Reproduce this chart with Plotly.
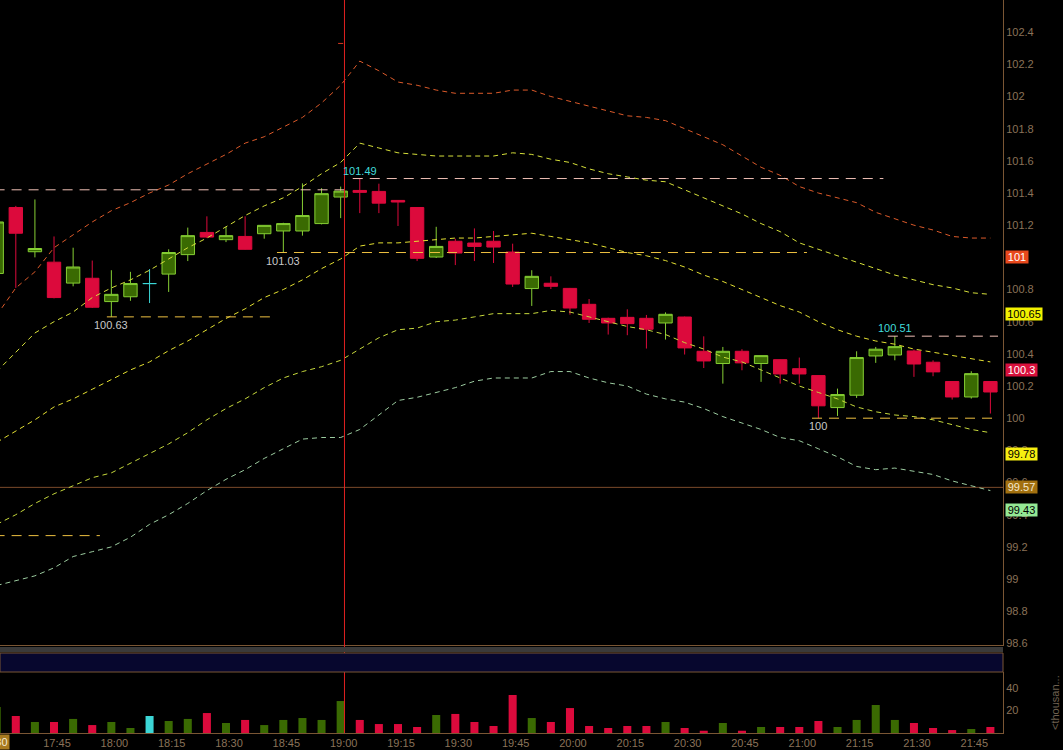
import plotly.graph_objects as go

DAY = "2024-03-05 "

# ---------------- data ----------------
times = ["17:30", "17:35", "17:40", "17:45", "17:50", "17:55", "18:00", "18:05", "18:10", "18:15",
         "18:20", "18:25", "18:30", "18:35", "18:40", "18:45", "18:50", "18:55", "19:00", "19:05",
         "19:10", "19:15", "19:20", "19:25", "19:30", "19:35", "19:40", "19:45", "19:50", "19:55",
         "20:00", "20:05", "20:10", "20:15", "20:20", "20:25", "20:30", "20:35", "20:40", "20:45",
         "20:50", "20:55", "21:00", "21:05", "21:10", "21:15", "21:20", "21:25", "21:30", "21:35",
         "21:40", "21:45", "21:50"]

opens = [100.90, 101.31, 101.035, 100.97, 100.84, 100.87, 100.725, 100.755, 100.837, 100.896,
         101.017, 101.155, 101.11, 101.13, 101.147, 101.164, 101.164, 101.21, 101.375, 101.416,
         101.41, 101.354, 101.31, 101.002, 101.10, 101.089, 101.10, 101.033, 100.806, 100.839,
         100.807, 100.708, 100.621, 100.627, 100.621, 100.592, 100.629, 100.416, 100.34, 100.416,
         100.34, 100.364, 100.308, 100.265, 100.066, 100.143, 100.387, 100.393, 100.418, 100.348,
         100.228, 100.132, 100.228]
highs = [101.42, 101.32, 101.36, 101.13, 101.06, 100.98, 100.92, 100.91, 100.927, 101.05,
         101.185, 101.255, 101.19, 101.255, 101.20, 101.215, 101.46, 101.43, 101.44, 101.49,
         101.458, 101.356, 101.31, 101.19, 101.116, 101.18, 101.164, 101.085, 100.92, 100.882,
         100.81, 100.741, 100.625, 100.677, 100.642, 100.658, 100.632, 100.509, 100.443, 100.429,
         100.39, 100.366, 100.377, 100.265, 100.184, 100.416, 100.443, 100.51, 100.427, 100.36,
         100.23, 100.292, 100.23]
lows = [100.87, 100.81, 101.00, 100.745, 100.82, 100.685, 100.63, 100.73, 100.716, 100.785,
        100.977, 101.12, 101.095, 101.048, 101.116, 101.03, 101.135, 101.205, 101.244, 101.275,
        101.275, 101.195, 100.977, 100.996, 100.952, 100.977, 100.965, 100.816, 100.698, 100.803,
        100.644, 100.592, 100.52, 100.516, 100.433, 100.489, 100.396, 100.312, 100.215, 100.298,
        100.226, 100.215, 100.215, 100.00, 100.014, 100.126, 100.344, 100.36, 100.257, 100.261,
        100.116, 100.122, 100.029]
closes = [101.22, 101.15, 101.055, 100.75, 100.94, 100.69, 100.77, 100.837, 100.837, 101.03,
          101.135, 101.126, 101.135, 101.05, 101.199, 101.21, 101.26, 101.396, 101.412, 101.404,
          101.337, 101.344, 100.994, 101.068, 101.027, 101.068, 101.064, 100.834, 100.882, 100.82,
          100.685, 100.615, 100.592, 100.588, 100.553, 100.646, 100.437, 100.356, 100.416, 100.344,
          100.389, 100.275, 100.275, 100.077, 100.147, 100.377, 100.429, 100.445, 100.337, 100.288,
          100.132, 100.277, 100.163]

volume_k = [23, 15, 9.7, 9.7, 12.4, 7, 9.7, 4.4, 15, 10.6,
            12.4, 17.6, 8.8, 11.5, 7, 11.5, 13.2, 11.5, 28.2, 11.5,
            7.9, 7.9, 5.3, 15.9, 16.8, 9.7, 6.2, 33.5, 13.2, 9.7,
            22, 6.2, 4.4, 6.2, 6.2, 9.7, 4.4, 2, 8.8, 2,
            5.3, 5.3, 5.3, 10.6, 5.3, 11.5, 24.7, 11.5, 8.8, 4.4,
            2.6, 3.5, 5.3]

# envelope / band lines (top to bottom)
band_outer_up = [100.64, 100.81, 100.91, 101.06, 101.14, 101.22, 101.29, 101.34, 101.40, 101.45,
                 101.52, 101.58, 101.64, 101.71, 101.75, 101.81, 101.87, 101.96, 102.07, 102.22,
                 102.16, 102.09, 102.07, 102.04, 102.02, 102.02, 102.02, 102.04, 102.04, 102.00,
                 101.97, 101.94, 101.91, 101.88, 101.87, 101.85, 101.80, 101.75, 101.70, 101.63,
                 101.56, 101.51, 101.44, 101.40, 101.37, 101.34, 101.28, 101.24, 101.20, 101.17,
                 101.13, 101.12, 101.12]
band_inner_up = [100.29, 100.41, 100.53, 100.60, 100.66, 100.75, 100.81, 100.86, 100.92, 100.99,
                 101.06, 101.12, 101.19, 101.26, 101.32, 101.37, 101.44, 101.52, 101.59, 101.71,
                 101.68, 101.65, 101.64, 101.63, 101.63, 101.63, 101.63, 101.65, 101.64, 101.61,
                 101.59, 101.55, 101.52, 101.50, 101.48, 101.47, 101.42, 101.37, 101.32, 101.27,
                 101.21, 101.16, 101.09, 101.05, 101.01, 100.97, 100.93, 100.89, 100.86, 100.83,
                 100.81, 100.78, 100.77]
band_mid = [99.85, 99.92, 99.99, 100.07, 100.12, 100.18, 100.24, 100.30, 100.35, 100.42,
            100.48, 100.55, 100.62, 100.68, 100.75, 100.80, 100.86, 100.93, 100.99, 101.07,
            101.09, 101.09, 101.10, 101.11, 101.12, 101.12, 101.13, 101.14, 101.15, 101.13,
            101.11, 101.09, 101.06, 101.03, 101.01, 100.98, 100.94, 100.89, 100.85, 100.80,
            100.75, 100.70, 100.66, 100.60, 100.55, 100.51, 100.48, 100.46, 100.43, 100.41,
            100.39, 100.37, 100.35]
band_inner_dn = [99.34, 99.40, 99.47, 99.53, 99.58, 99.63, 99.66, 99.72, 99.78, 99.84,
                 99.91, 99.99, 100.06, 100.12, 100.19, 100.25, 100.29, 100.32, 100.36, 100.43,
                 100.50, 100.55, 100.56, 100.60, 100.61, 100.63, 100.65, 100.65, 100.65, 100.67,
                 100.66, 100.63, 100.60, 100.57, 100.55, 100.52, 100.47, 100.43, 100.38, 100.35,
                 100.30, 100.25, 100.20, 100.16, 100.12, 100.07, 100.04, 100.02, 100.01, 99.99,
                 99.96, 99.93, 99.91]
band_outer_dn = [98.96, 98.99, 99.02, 99.07, 99.14, 99.17, 99.20, 99.26, 99.34, 99.40,
                 99.47, 99.55, 99.62, 99.68, 99.75, 99.81, 99.87, 99.88, 99.88, 99.93,
                 100.02, 100.11, 100.13, 100.16, 100.19, 100.23, 100.25, 100.25, 100.25, 100.29,
                 100.29, 100.25, 100.22, 100.20, 100.15, 100.12, 100.10, 100.06, 100.01, 99.97,
                 99.93, 99.88, 99.86, 99.81, 99.76, 99.70, 99.68, 99.69, 99.67, 99.65,
                 99.61, 99.58, 99.55]

# swing highs / lows (level, start, end, label anchor time)
res_levels = [101.42, 101.49, 100.51]
res_start = ["17:25", "19:03:10", "21:23:10"]
res_end = ["19:01", "21:22", "21:52"]
res_label_time = ["17:30", "19:05", "21:25"]

sup_levels = [101.03, 100.63, 100.00, 99.27]
sup_start = ["18:43:20", "17:58:50", "21:03:20", "17:25"]
sup_end = ["21:02", "18:42", "21:52", "17:57"]
sup_label_time = ["18:45", "18:00", "21:05", None]

level_line = 99.57
cursor_time = "19:01"
cursor_mark_price = 102.33

# right-axis value flags
flag_values = [101.0, 100.65, 100.3, 99.78, 99.57, 99.43]
flag_texts = ["101", "100.65", "100.3", "99.78", "99.57", "99.43"]
flag_bg = ["#e8481c", "#f2f000", "#d8103c", "#f6ee10", "#a2700f", "#94e894"]
flag_fg = ["#ffffff", "#000000", "#ffffff", "#000000", "#f4e8d0", "#000000"]
flag_w = [22, 36, 31, 31, 31, 31]

# ---------------- styling ----------------
W, H = 1063, 750
HR = 746  # effective rendered height used for vertical placement
XR = 1003 / W
BROWN = "#7a5634"
TICKC = "#8a7258"
GREEN_FILL = "#3a6a02"
GREEN_LINE = "#86cf34"
RED = "#dc0a3c"
CYAN = "#3cd6d6"
FONT = "Liberation Sans, Arial, sans-serif"


def ts(t):
    return DAY + t


def py(px):
    return 1 - px / HR


x = [ts(t) for t in times]
doji = [i for i in range(len(times)) if opens[i] == closes[i]]
main = [i for i in range(len(times)) if opens[i] != closes[i]]

fig = go.Figure()

# bands
band_styles = [(band_outer_up, "#dc5a2a"), (band_inner_up, "#d6e03a"), (band_mid, "#e4e032"),
               (band_inner_dn, "#c6d83c"), (band_outer_dn, "#9ccca0")]
for vals, col in band_styles:
    fig.add_trace(go.Scatter(x=x, y=vals, mode="lines", line=dict(color=col, width=1, dash="5px,4px"),
                             hoverinfo="skip", xaxis="x", yaxis="y"))

# horizontal level line
fig.add_shape(type="line", xref="paper", yref="y", x0=0, x1=XR, y0=level_line, y1=level_line,
              line=dict(color="#7a4a2a", width=1), layer="below")

# resistance / support segments
for lv, s, e in zip(res_levels, res_start, res_end):
    fig.add_trace(go.Scatter(x=[ts(s), ts(e)], y=[lv, lv], mode="lines",
                             line=dict(color="#f0c0b6", width=1, dash="10px,7px"),
                             hoverinfo="skip", xaxis="x", yaxis="y"))
for lv, s, e in zip(sup_levels, sup_start, sup_end):
    fig.add_trace(go.Scatter(x=[ts(s), ts(e)], y=[lv, lv], mode="lines",
                             line=dict(color="#eec040", width=1, dash="10px,7px"),
                             hoverinfo="skip", xaxis="x", yaxis="y"))

# small mark near the cursor top
fig.add_trace(go.Scatter(x=[ts("18:59:20"), ts("19:00:40")], y=[cursor_mark_price, cursor_mark_price],
                         mode="lines", line=dict(color="#d83a20", width=1), hoverinfo="skip",
                         xaxis="x", yaxis="y"))

# candles
fig.add_trace(go.Candlestick(
    x=[x[i] for i in main], open=[opens[i] for i in main], high=[highs[i] for i in main],
    low=[lows[i] for i in main], close=[closes[i] for i in main],
    increasing=dict(fillcolor=GREEN_FILL, line=dict(color=GREEN_LINE, width=1)),
    decreasing=dict(fillcolor=RED, line=dict(color=RED, width=1)),
    whiskerwidth=0, hoverinfo="skip", xaxis="x", yaxis="y"))
fig.add_trace(go.Candlestick(
    x=[x[i] for i in doji], open=[opens[i] for i in doji], high=[highs[i] for i in doji],
    low=[lows[i] for i in doji], close=[closes[i] for i in doji],
    increasing=dict(fillcolor=CYAN, line=dict(color=CYAN, width=1)),
    decreasing=dict(fillcolor=CYAN, line=dict(color=CYAN, width=1)),
    whiskerwidth=0, hoverinfo="skip", xaxis="x", yaxis="y"))

# volume
vol_colors = [CYAN if c == o else (GREEN_FILL if c > o else RED) for o, c in zip(opens, closes)]
fig.add_trace(go.Bar(x=x, y=volume_k, marker=dict(color=vol_colors, line=dict(width=0)),
                     width=126000, hoverinfo="skip", xaxis="x2", yaxis="y2"))

# labels for swing highs/lows
for lv, t in zip(res_levels, res_label_time):
    fig.add_annotation(x=ts(t), y=lv, xref="x", yref="y", text=f"{lv:g}", showarrow=False,
                       yanchor="bottom", xanchor="center", font=dict(color="#40dcdc", size=11, family=FONT))
for lv, t in zip(sup_levels, sup_label_time):
    if t is None:
        continue
    fig.add_annotation(x=ts(t), y=lv, xref="x", yref="y", text=f"{lv:g}", showarrow=False,
                       yanchor="top", xanchor="center", font=dict(color="#c8c8c8", size=11, family=FONT))

# value flags on the right axis
for v, txt, bg, fg, w in zip(flag_values, flag_texts, flag_bg, flag_fg, flag_w):
    fig.add_annotation(x=1005 / W, y=v, xref="paper", yref="y", text=txt, showarrow=False,
                       xanchor="left", yanchor="middle", bgcolor=bg, borderpad=0, width=w,
                       align="center", font=dict(color=fg, size=11, family=FONT))

# cursor line
fig.add_shape(type="line", xref="x", yref="paper", x0=ts(cursor_time), x1=ts(cursor_time),
              y0=py(733), y1=1, line=dict(color="#e02020", width=1))

# separator stripe and navy band
fig.add_shape(type="rect", xref="paper", yref="paper", x0=0, x1=XR, y0=py(652), y1=py(647),
              fillcolor="#3a3a3a", line=dict(width=0))
fig.add_shape(type="rect", xref="paper", yref="paper", x0=0, x1=XR, y0=py(672), y1=py(653),
              fillcolor="#07072e", line=dict(color=BROWN, width=1))

# axis unit label
fig.add_annotation(x=1055 / W, y=py(703), xref="paper", yref="paper", text="&lt;thousan...",
                   textangle=-90, showarrow=False, xanchor="center", yanchor="middle",
                   font=dict(color="#6e6050", size=11, family=FONT))
# clipped time flag at bottom-left
fig.add_annotation(x=10 / W, y=py(742), xref="paper", yref="paper", text="17:30",
                   xanchor="right", yanchor="middle", showarrow=False, bgcolor="#a87a20", borderpad=1,
                   font=dict(color="#f4ead6", size=11, family=FONT))

fig.update_layout(
    width=W, height=H, margin=dict(l=0, r=0, t=0, b=0), autosize=False,
    paper_bgcolor="#000000", plot_bgcolor="#000000", showlegend=False,
    boxmode="overlay", boxgap=0.3, boxgroupgap=0,
    font=dict(family=FONT, size=11, color=TICKC),
    xaxis=dict(domain=[0, XR], type="date", range=[ts("17:30:52"), ts("21:53:18")],
               anchor="y", showgrid=False, zeroline=False, showticklabels=False,
               showline=True, linecolor=BROWN, linewidth=1, ticks="",
               rangeslider=dict(visible=False)),
    xaxis2=dict(domain=[0, XR], type="date", matches="x", anchor="y2", showgrid=False,
                zeroline=False, showline=True, linecolor=BROWN, linewidth=1, ticks="",
                tickformat="%H:%M", dtick=900000, tick0=ts("17:45"), ticklabelshift=3,
                tickfont=dict(color=TICKC, size=11, family=FONT), rangeslider=dict(visible=False)),
    yaxis=dict(domain=[py(645), 1], range=[98.59, 102.6], side="right", anchor="x",
               showgrid=False, zeroline=False, showline=True, linecolor=BROWN, linewidth=1,
               dtick=0.2, tick0=98.6, ticks="", ticklabelstandoff=0,
               tickfont=dict(color=TICKC, size=11, family=FONT)),
    yaxis2=dict(domain=[py(733), py(672)], range=[0, 53.8], side="right", anchor="x2",
                showgrid=False, zeroline=False, showline=True, linecolor=BROWN, linewidth=1,
                tickvals=[20, 40], ticks="", ticklabelstandoff=0,
                tickfont=dict(color=TICKC, size=11, family=FONT)),
)

page_fix = ("document.documentElement.style.margin='0';document.documentElement.style.overflow='hidden';"
            "document.body.style.margin='0';document.body.style.padding='0';"
            "document.body.style.overflow='hidden';document.body.style.background='#000';"
            "document.body.style.height='750px';")
fig.write_html("out.html", config={"displayModeBar": False, "responsive": False}, post_script=page_fix)
